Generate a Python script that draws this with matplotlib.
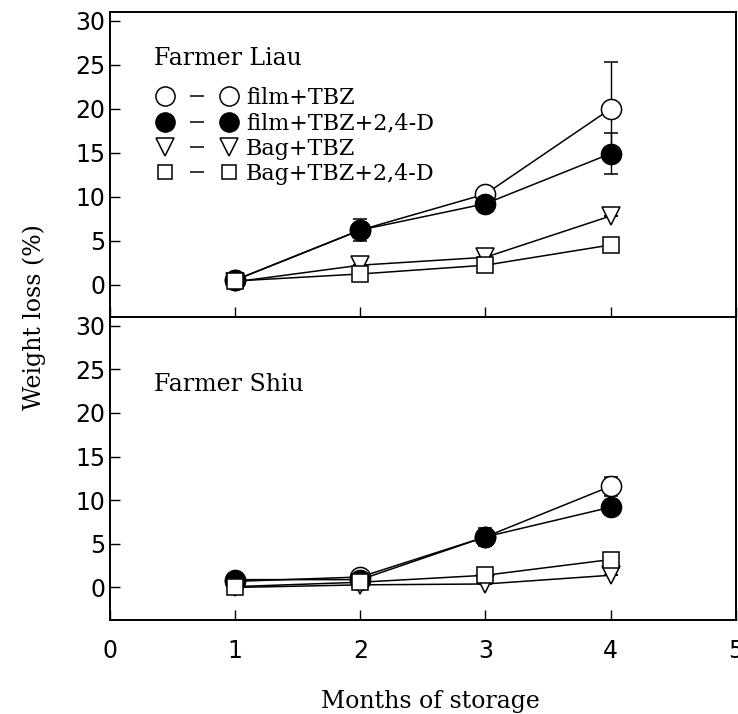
import matplotlib
matplotlib.use("Agg")
import matplotlib.pyplot as plt
from matplotlib.lines import Line2D
from matplotlib.legend_handler import HandlerTuple

months = [1, 2, 3, 4]
labels = ["film+TBZ", "film+TBZ+2,4-D", "Bag+TBZ", "Bag+TBZ+2,4-D"]

# Farmer Liau
liau = [
    [0.5, 6.2, 10.3, 20.0],
    [0.5, 6.2, 9.2, 14.9],
    [0.3, 2.2, 3.1, 7.8],
    [0.4, 1.2, 2.2, 4.5],
]
liau_err = [
    [0, 0, 0, 5.3],
    [0, 1.2, 0.8, 2.3],
    [0, 0, 0, 0],
    [0, 0, 0, 0],
]

# Farmer Shiu
shiu = [
    [0.7, 1.2, 5.8, 11.6],
    [0.9, 0.9, 5.8, 9.2],
    [0.0, 0.3, 0.4, 1.4],
    [0.1, 0.6, 1.4, 3.2],
]
shiu_err = [
    [0, 0, 0, 1.1],
    [0, 0, 1.0, 0],
    [0, 0, 0, 0],
    [0, 0, 0, 0],
]

markers = ["o", "o", "v", "s"]
faces = ["white", "black", "white", "white"]
sizes = [14.5, 14.5, 13, 11]

fig = plt.figure(figsize=(7.38, 7.14), dpi=100)
ax1 = fig.add_axes([0.149, 0.556, 0.848, 0.427])
ax2 = fig.add_axes([0.149, 0.132, 0.848, 0.424])

serif = "DejaVu Serif"

for ax, data, err, name, ty in [(ax1, liau, liau_err, "Farmer Liau", 0.825),
                                (ax2, shiu, shiu_err, "Farmer Shiu", 0.755)]:
    for i in range(4):
        ax.errorbar(months, data[i], yerr=err[i], marker=markers[i],
                    mfc=faces[i], mec="black", ms=sizes[i], color="black",
                    lw=1.1, mew=1.1, capsize=5, elinewidth=1, zorder=3 + i)
    ax.set_xlim(0, 5)
    ax.set_ylim(-3.7, 31)
    ax.set_yticks([0, 5, 10, 15, 20, 25, 30])
    ax.set_xticks([0, 1, 2, 3, 4, 5])
    ax.tick_params(direction="in", length=7, width=1, labelsize=17,
                   top=False, right=False)
    for s in ax.spines.values():
        s.set_linewidth(1.4)
    ax.text(0.07, ty, name, transform=ax.transAxes, fontsize=17, family=serif)

ax1.tick_params(labelbottom=False)
ax2.tick_params(axis="x", pad=14)

handles = []
for i in range(4):
    m = Line2D([], [], marker=markers[i], ls="none", mfc=faces[i], mec="black",
               ms=sizes[i] * 0.95, mew=1.1)
    d = Line2D([], [], marker="_", ls="none", color="black", ms=10, mew=1.1)
    handles.append((m, d, m))
ax1.legend(handles, labels, handler_map={tuple: HandlerTuple(ndivide=None, pad=0.5)},
           loc="upper left", bbox_to_anchor=(0.04, 0.82), frameon=False,
           handlelength=3.8, handletextpad=0.3, labelspacing=0.15,
           prop={"family": serif, "size": 16})

fig.text(0.047, 0.556, "Weight loss (%)", rotation=90, ha="center", va="center",
         fontsize=17, family=serif)
fig.text(0.583, 0.018, "Months of storage", ha="center", va="center",
         fontsize=17, family=serif)

fig.savefig("out.png", dpi=100)
